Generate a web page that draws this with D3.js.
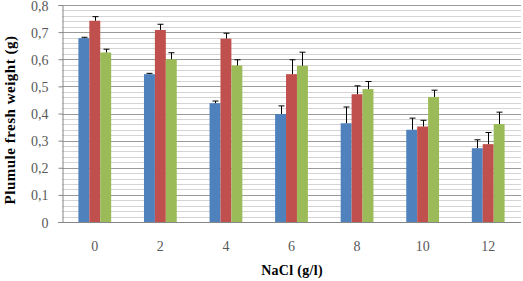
<!DOCTYPE html>
<html>
<head>
<meta charset="utf-8">
<script src="https://cdn.jsdelivr.net/npm/d3@7"></script>
<style>
  body { margin: 0; background: #fff; }
  text { font-family: "Times New Roman", "Liberation Serif", serif; }
</style>
</head>
<body>
<script>
// NaCl concentrations (g/l)
const categories = ["0", "2", "4", "6", "8", "10", "12"];
const seriesA = [0.678, 0.545, 0.438, 0.398, 0.364, 0.340, 0.272];
const seriesB = [0.742, 0.708, 0.676, 0.545, 0.471, 0.352, 0.287];
const seriesC = [0.625, 0.600, 0.577, 0.576, 0.490, 0.461, 0.361];
const errA = [0.003, 0.003, 0.008, 0.030, 0.060, 0.043, 0.031];
const errB = [0.015, 0.021, 0.020, 0.053, 0.031, 0.023, 0.043];
const errC = [0.012, 0.024, 0.021, 0.050, 0.028, 0.025, 0.044];
const yTicks = [0, 0.1, 0.2, 0.3, 0.4, 0.5, 0.6, 0.7, 0.8];

const w = 523, h = 281;
const padL = 62, padR = 521, padT = 5, padB = 222;
const colors = ["#4f81bd", "#c0504d", "#9bbb59"];

const series = [seriesA, seriesB, seriesC];
const errs = [errA, errB, errC];

const svg = d3.select("body").append("svg")
  .attr("width", w)
  .attr("height", h);

const x = d3.scaleBand()
  .domain(categories)
  .range([padL, padR])
  .paddingInner(0.5)
  .paddingOuter(0.25);

const xSub = d3.scaleBand()
  .domain([0, 1, 2])
  .range([0, x.bandwidth()]);

const y = d3.scaleLinear()
  .domain([0, 0.8])
  .range([padB, padT]);

// minor gridlines every 0.02
const minor = d3.range(0, 0.8001, 0.02).filter(v => Math.round(v * 50) % 5 !== 0);
svg.append("g").selectAll("line")
  .data(minor)
  .enter()
  .append("line")
  .attr("x1", padL).attr("x2", padR)
  .attr("y1", d => Math.round(y(d)) + 0.5)
  .attr("y2", d => Math.round(y(d)) + 0.5)
  .attr("stroke", "#d4d4d4");

// major gridlines
svg.append("g").selectAll("line")
  .data(yTicks.slice(1))
  .enter()
  .append("line")
  .attr("x1", padL).attr("x2", padR)
  .attr("y1", d => Math.round(y(d)) + 0.5)
  .attr("y2", d => Math.round(y(d)) + 0.5)
  .attr("stroke", "#9a9a9a");

// bars
series.forEach((s, i) => {
  svg.append("g").selectAll("rect")
    .data(s)
    .enter()
    .append("rect")
    .attr("x", (d, j) => x(categories[j]) + xSub(i))
    .attr("y", d => y(d))
    .attr("width", xSub.bandwidth())
    .attr("height", d => y(0) - y(d))
    .attr("fill", colors[i]);

  // error bars (upper only)
  const eb = svg.append("g").attr("stroke", "#000").attr("stroke-width", 1);
  s.forEach((d, j) => {
    const cx = Math.round(x(categories[j]) + xSub(i) + xSub.bandwidth() / 2) + 0.5;
    eb.append("line")
      .attr("x1", cx).attr("x2", cx)
      .attr("y1", y(d)).attr("y2", y(d + errs[i][j]));
    eb.append("line")
      .attr("x1", cx - 3).attr("x2", cx + 3)
      .attr("y1", y(d + errs[i][j])).attr("y2", y(d + errs[i][j]));
  });
});

// axes
const yAxis = d3.axisLeft(y)
  .tickValues(yTicks)
  .tickSize(4)
  .tickFormat(d => d === 0 ? "0" : d3.format(".1f")(d).replace(".", ","));

const gy = svg.append("g")
  .attr("transform", "translate(" + (padL + 0.5) + ",0)")
  .call(yAxis);
gy.select(".domain").attr("stroke", "#868686");
gy.selectAll(".tick line").attr("stroke", "#868686");
gy.selectAll(".tick text")
  .attr("x", -14)
  .attr("dy", "0.36em")
  .attr("font-size", 14)
  .attr("fill", "#595959");

const xAxis = d3.axisBottom(x).tickSize(0);
const gx = svg.append("g")
  .attr("transform", "translate(0," + (padB + 0.5) + ")")
  .call(xAxis);
gx.select(".domain").attr("d", "M" + (padL - 4) + ",0H" + padR).attr("stroke", "#868686");
gx.selectAll(".tick text")
  .attr("dy", 0)
  .attr("y", 28)
  .attr("font-size", 14)
  .attr("fill", "#595959");

// axis titles
svg.append("text")
  .attr("x", 292)
  .attr("y", 275)
  .attr("text-anchor", "middle")
  .attr("font-size", 14)
  .attr("font-weight", "bold")
  .attr("letter-spacing", 0.3)
  .text("NaCl (g/l)");

svg.append("text")
  .attr("transform", "translate(15,120) rotate(-90)")
  .attr("text-anchor", "middle")
  .attr("font-size", 15)
  .attr("font-weight", "bold")
  .attr("letter-spacing", 0.5)
  .text("Plumule fresh weight (g)");
</script>
</body>
</html>
